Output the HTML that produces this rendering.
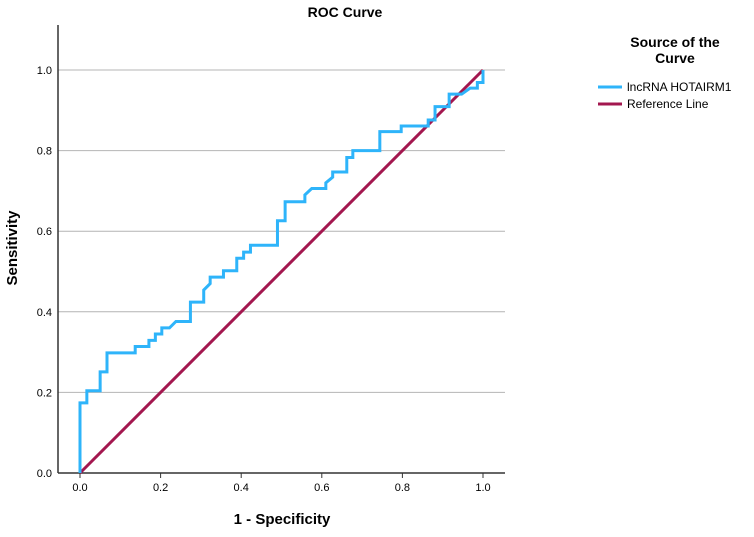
<!DOCTYPE html>
<html><head><meta charset="utf-8"><style>
body{margin:0;background:#fff;font-family:"Liberation Sans",sans-serif}
</style></head><body>
<svg width="754" height="532" xmlns="http://www.w3.org/2000/svg" font-family="Liberation Sans, sans-serif">
<text x="345" y="17" text-anchor="middle" font-size="14" font-weight="bold">ROC Curve</text>
<g id="grid"></g>
<g id="axes"></g>
<g id="series"></g>
<text x="282" y="524" text-anchor="middle" font-size="15" font-weight="bold">1 - Specificity</text>
<text transform="translate(17,248) rotate(-90)" text-anchor="middle" font-size="15" font-weight="bold">Sensitivity</text>
<g>
<text x="675" y="47" text-anchor="middle" font-size="14" font-weight="bold">Source of the</text>
<text x="675" y="63" text-anchor="middle" font-size="14" font-weight="bold">Curve</text>
<line x1="598" y1="87" x2="622" y2="87" stroke="#2eb4fa" stroke-width="3"/>
<text x="627" y="91" font-size="12">lncRNA HOTAIRM1</text>
<line x1="598" y1="104" x2="622" y2="104" stroke="#a3174f" stroke-width="3"/>
<text x="627" y="108" font-size="12">Reference Line</text>
</g>
</svg>
<script>
const fpr=[0,0,0.017,0.017,0.050,0.050,0.067,0.067,0.137,0.137,0.171,0.171,0.187,0.187,0.203,0.203,0.222,0.238,0.274,0.274,0.307,0.307,0.323,0.323,0.356,0.356,0.389,0.389,0.406,0.406,0.423,0.423,0.490,0.490,0.509,0.509,0.558,0.558,0.575,0.610,0.610,0.627,0.627,0.662,0.662,0.677,0.677,0.744,0.744,0.797,0.797,0.864,0.864,0.881,0.881,0.916,0.916,0.947,0.968,0.986,0.986,1,1];
const tpr=[0,0.174,0.174,0.204,0.204,0.251,0.251,0.298,0.298,0.314,0.314,0.329,0.329,0.345,0.345,0.360,0.360,0.376,0.376,0.424,0.424,0.454,0.470,0.486,0.486,0.502,0.502,0.533,0.533,0.548,0.548,0.565,0.565,0.626,0.626,0.673,0.673,0.690,0.706,0.706,0.720,0.734,0.747,0.747,0.783,0.783,0.800,0.800,0.847,0.847,0.861,0.861,0.876,0.876,0.909,0.909,0.940,0.940,0.955,0.955,0.969,0.969,1];
const refX=[0,1];
const refY=[0,1];
const xTicks=[0,0.2,0.4,0.6,0.8,1.0];
const yTicks=[0,0.2,0.4,0.6,0.8,1.0];
const NS="http://www.w3.org/2000/svg";
const X=v=>80+v*403, Y=v=>473-v*403;
function mk(t,a,p){const e=document.createElementNS(NS,t);for(const k in a)e.setAttribute(k,a[k]);p.appendChild(e);return e;}
const grid=document.getElementById('grid'),axes=document.getElementById('axes'),ser=document.getElementById('series');
yTicks.forEach(v=>{
 if(v>0){const g=mk('line',{x1:58,x2:505,y1:Y(v),y2:Y(v),stroke:'#b4b4b4','stroke-width':1},grid);
 
 }
 const t=mk('text',{x:52,y:Y(v)+4,'text-anchor':'end','font-size':11},axes);t.textContent=v.toFixed(1);
 
 
});
xTicks.forEach(v=>{
 mk('line',{x1:X(v),x2:X(v),y1:473,y2:478,stroke:'#333'},axes);
 const t=mk('text',{x:X(v),y:491,'text-anchor':'middle','font-size':11},axes);t.textContent=v.toFixed(1);
 
 
});
mk('line',{x1:58,x2:58,y1:25,y2:473,stroke:'#333','stroke-width':1.5},axes);
mk('line',{x1:58,x2:505,y1:473,y2:473,stroke:'#333','stroke-width':1.5},axes);
const r=mk('polyline',{points:refX.map((v,i)=>X(v)+','+Y(refY[i])).join(' '),fill:'none',stroke:'#a3174f','stroke-width':3},ser);


const c=mk('polyline',{points:fpr.map((v,i)=>X(v)+','+Y(tpr[i])).join(' '),fill:'none',stroke:'#2eb4fa','stroke-width':3},ser);


</script>
</body></html>
